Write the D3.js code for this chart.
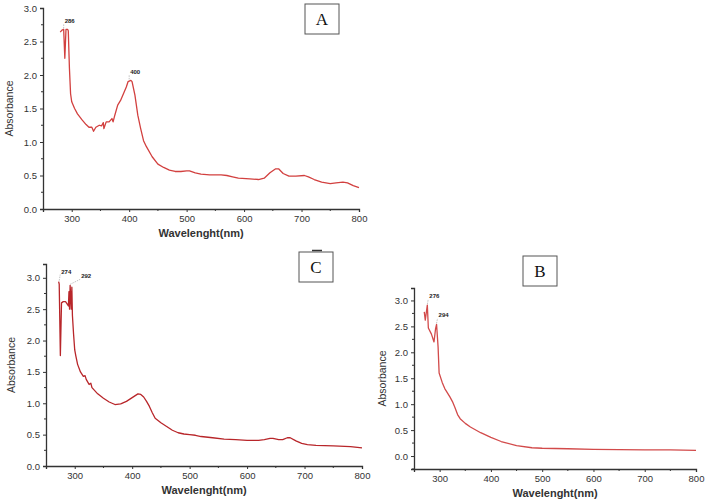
<!DOCTYPE html>
<html>
<head>
<meta charset="utf-8">
<script src="https://cdn.jsdelivr.net/npm/d3@7"></script>
<style>
  body { margin: 0; background: #fff; }
  svg { font-family: "Liberation Sans", Arial, sans-serif; }
</style>
</head>
<body>
<div id="chart"></div>
<script>
// spectrum A
const aWave = [280, 283, 286, 288, 290, 293, 294, 296, 298, 300, 305, 310, 318, 325, 330, 335, 338, 342, 348, 352, 355, 356, 360, 365, 370, 372, 375, 380, 385, 390, 395, 398, 403, 405, 410, 415, 420, 425, 430, 440, 450, 460, 470, 480, 490, 500, 505, 515, 525, 540, 560, 570, 580, 590, 610, 625, 635, 645, 655, 660, 668, 678, 690, 705, 712, 722, 735, 750, 760, 772, 780, 790, 800];
const aAbs  = [2.64, 2.67, 2.68, 2.25, 2.68, 2.68, 2.66, 2.1, 1.72, 1.6, 1.5, 1.42, 1.33, 1.26, 1.22, 1.22, 1.16, 1.22, 1.25, 1.24, 1.29, 1.2, 1.3, 1.3, 1.35, 1.3, 1.4, 1.55, 1.62, 1.72, 1.82, 1.9, 1.92, 1.9, 1.7, 1.4, 1.2, 1.02, 0.93, 0.78, 0.67, 0.62, 0.58, 0.56, 0.56, 0.57, 0.57, 0.54, 0.52, 0.51, 0.51, 0.5, 0.48, 0.46, 0.45, 0.44, 0.46, 0.54, 0.6, 0.6, 0.53, 0.49, 0.49, 0.5, 0.48, 0.44, 0.4, 0.38, 0.39, 0.4, 0.39, 0.35, 0.32];

// spectrum C
const cWave = [272, 273, 275, 277, 280, 284, 287, 289, 290, 291, 292, 294, 295, 296, 298, 300, 302, 305, 310, 315, 318, 320, 325, 328, 330, 340, 350, 360, 370, 380, 390, 400, 410, 415, 420, 425, 430, 435, 440, 450, 460, 470, 480, 490, 500, 510, 520, 540, 560, 580, 600, 620, 630, 640, 645, 655, 662, 670, 675, 685, 695, 705, 720, 750, 780, 800];
const cAbs  = [2.94, 2.9, 1.76, 2.6, 2.62, 2.62, 2.58, 2.55, 2.78, 2.5, 2.88, 2.5, 2.85, 2.4, 2.1, 1.85, 1.75, 1.62, 1.5, 1.43, 1.44, 1.38, 1.3, 1.32, 1.25, 1.15, 1.08, 1.02, 0.98, 0.99, 1.03, 1.09, 1.15, 1.14, 1.1, 1.03, 0.95, 0.85, 0.76, 0.69, 0.63, 0.57, 0.53, 0.51, 0.5, 0.49, 0.47, 0.45, 0.43, 0.42, 0.41, 0.41, 0.42, 0.44, 0.44, 0.42, 0.42, 0.45, 0.45, 0.4, 0.36, 0.34, 0.33, 0.32, 0.31, 0.29];

// spectrum B
const bWave = [270, 272, 276, 278, 284, 289, 292, 294, 297, 299, 305, 310, 320, 325, 330, 335, 340, 350, 360, 380, 400, 420, 450, 480, 500, 550, 600, 650, 700, 750, 800];
const bAbs  = [2.78, 2.62, 2.91, 2.47, 2.35, 2.2, 2.45, 2.54, 2.1, 1.6, 1.42, 1.3, 1.14, 1.05, 0.93, 0.8, 0.72, 0.63, 0.56, 0.45, 0.36, 0.28, 0.2, 0.16, 0.15, 0.14, 0.13, 0.125, 0.12, 0.12, 0.11];

const xMajor = [300, 400, 500, 600, 700, 800];
const yMajor = [0.0, 0.5, 1.0, 1.5, 2.0, 2.5, 3.0];

const aPeaks = [{wave: 286, abs: 2.68, text: "286"}, {wave: 400, abs: 1.92, text: "400"}];
const cPeaks = [{wave: 273, abs: 2.94, text: "274"}, {wave: 292, abs: 2.88, text: "292"}];
const bPeaks = [{wave: 276, abs: 2.91, text: "276"}, {wave: 294, abs: 2.54, text: "294"}];

const svg = d3.select("#chart").append("svg")
    .attr("width", 709)
    .attr("height", 503);

function drawPanel(p) {
    const x = d3.scaleLinear().domain([250, 800]).range([p.left, p.right]);
    const y = d3.scaleLinear().domain(p.yDomain).range([p.bottom, p.top]);
    const g = svg.append("g");

    // x axis
    const xAxis = d3.axisBottom(x).tickValues(xMajor).tickSize(3).tickPadding(3).tickFormat(d3.format("d"));
    const gx = g.append("g").attr("transform", "translate(0," + p.bottom + ")").call(xAxis);
    const xMinor = d3.range(350, 800, 100);
    gx.selectAll(".minor").data(xMinor).enter().append("line")
        .attr("x1", d => x(d)).attr("x2", d => x(d))
        .attr("y1", 0).attr("y2", 2)
        .attr("stroke", "#333");

    // y axis
    const yAxis = d3.axisLeft(y).tickValues(yMajor).tickSize(3).tickPadding(3).tickFormat(d3.format(".1f"));
    const gy = g.append("g").attr("transform", "translate(" + p.left + ",0)").call(yAxis);
    const yMinor = d3.range(0.25, 3.3, 0.5).filter(v => v <= p.yDomain[1]);
    if (p.yDomain[0] < 0) yMinor.unshift(-0.25);
    gy.selectAll(".minor").data(yMinor).enter().append("line")
        .attr("x1", 0).attr("x2", -2)
        .attr("y1", d => y(d)).attr("y2", d => y(d))
        .attr("stroke", "#333");

    g.selectAll(".domain").attr("stroke", "#333").attr("stroke-width", 1.3);
    g.selectAll(".tick line").attr("stroke", "#333");
    g.selectAll(".tick text").attr("font-size", 9.5).attr("fill", "#333")
        .attr("font-family", "Liberation Sans, Arial, sans-serif");

    // titles
    g.append("text")
        .attr("x", (p.left + p.right) / 2)
        .attr("y", p.bottom + 28)
        .attr("text-anchor", "middle")
        .attr("font-size", 11)
        .attr("font-weight", 600)
        .attr("fill", "#333")
        .text("Wavelenght(nm)");
    g.append("text")
        .attr("transform", `translate(${p.ylabX},${(p.top + p.bottom) / 2})rotate(-90)`)
        .attr("text-anchor", "middle")
        .attr("font-size", 10.5)
        .attr("fill", "#333")
        .text("Absorbance");

    // spectrum
    const line = d3.line().x((d, i) => x(p.wave[i])).y(d => y(d));
    g.append("path")
        .datum(p.abs)
        .attr("fill", "none")
        .attr("stroke", p.color)
        .attr("stroke-width", 1.3)
        .attr("stroke-linejoin", "round")
        .attr("d", line);

    // peak labels
    p.peaks.forEach((pk, i) => {
        const px = x(pk.wave), py = y(pk.abs);
        const off = p.labelOff[i];
        g.append("line")
            .attr("x1", px).attr("y1", py - 1)
            .attr("x2", px + off[0]).attr("y2", py + off[1])
            .attr("stroke", "#999")
            .attr("stroke-width", 0.6)
            .attr("stroke-dasharray", "1.5,1");
        g.append("text")
            .attr("x", px + off[0] + 1)
            .attr("y", py + off[1] - 1)
            .attr("font-size", 6)
            .attr("font-weight", "bold")
            .attr("fill", "#222")
            .text(pk.text);
    });

    // panel letter box
    g.append("rect")
        .attr("x", p.box[0]).attr("y", p.box[1])
        .attr("width", 34).attr("height", 30)
        .attr("fill", "#fff")
        .attr("stroke", "#555")
        .attr("stroke-width", 1);
    g.append("text")
        .attr("x", p.box[0] + 17).attr("y", p.box[1] + 21)
        .attr("text-anchor", "middle")
        .attr("font-family", "Liberation Serif, Times New Roman, serif")
        .attr("font-size", 17)
        .attr("fill", "#111")
        .text(p.letter);
}

drawPanel({
    wave: aWave, abs: aAbs, peaks: aPeaks, letter: "A", color: "#d2403f",
    left: 43, right: 359, top: 8, bottom: 209, yDomain: [0, 3],
    ylabX: 13, box: [305, 4], labelOff: [[0, -5], [0, -5]]
});
drawPanel({
    wave: cWave, abs: cAbs, peaks: cPeaks, letter: "C", color: "#b8262a",
    left: 46, right: 362, top: 264, bottom: 466, yDomain: [0, 3.22],
    ylabX: 15, box: [299, 252], labelOff: [[1, -7], [10, -6]]
});
drawPanel({
    wave: bWave, abs: bAbs, peaks: bPeaks, letter: "B", color: "#d24a4a",
    left: 414, right: 696, top: 288, bottom: 469, yDomain: [-0.25, 3.24],
    ylabX: 386, box: [523, 256], labelOff: [[1, -6], [1, -6]]
});
// small mark above box C
svg.append("line").attr("x1", 312).attr("x2", 322).attr("y1", 250.5).attr("y2", 250.5)
    .attr("stroke", "#333").attr("stroke-width", 1.5);
</script>
</body>
</html>
